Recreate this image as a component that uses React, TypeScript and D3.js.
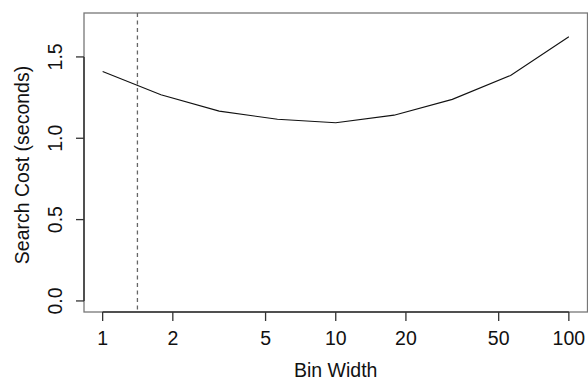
import * as d3 from "d3";
import React, { useEffect, useRef } from "react";

// bin widths (log spaced) and the search cost measured at each
const binWidths = [1, 1.778, 3.162, 5.623, 10, 17.78, 31.62, 56.23, 100];
const searchCost = [1.411, 1.268, 1.167, 1.117, 1.095, 1.142, 1.239, 1.386, 1.624];
const xTicks = [1, 2, 5, 10, 20, 50, 100];
const yTicks = [0, 0.5, 1.0, 1.5];
const optimumWidth = 1.41;

const App: React.FC = () => {
  const ref = useRef<SVGSVGElement>(null);

  useEffect(() => {
    const width = 588;
    const height = 381;
    const left = 84;
    const right = 587.5;
    const top = 13;
    const bottom = 312;
    const font = "'Liberation Sans', Arial, Helvetica, sans-serif";
    const fontSize = 19.5;

    const x = d3.scaleLog()
      .domain([Math.pow(10, -0.08), Math.pow(10, 2.08)])
      .range([left, right]);

    const y = d3.scaleLinear()
      .domain([-0.068, 1.77])
      .range([bottom, top]);

    const svg = d3.select(ref.current);
    svg.selectAll("*").remove();
    svg.attr("width", width).attr("height", height)
      .style("font-family", font);

    // plot box
    svg.append("rect")
      .attr("x", left).attr("y", top)
      .attr("width", right - left).attr("height", bottom - top)
      .attr("fill", "none")
      .attr("stroke", "#777")
      .attr("stroke-width", 1.3);

    // x axis
    svg.append("line")
      .attr("x1", x(xTicks[0])).attr("x2", x(xTicks[xTicks.length - 1]))
      .attr("y1", bottom).attr("y2", bottom)
      .attr("stroke", "#333").attr("stroke-width", 1.5);

    const xt = svg.append("g").selectAll("g").data(xTicks).join("g")
      .attr("transform", d => `translate(${x(d)},0)`);
    xt.append("line")
      .attr("y1", bottom).attr("y2", bottom + 9)
      .attr("stroke", "#333").attr("stroke-width", 1.3);
    xt.append("text")
      .attr("y", 345)
      .attr("text-anchor", "middle")
      .attr("font-size", fontSize)
      .attr("fill", "#111")
      .text(d => String(d));

    // y axis
    svg.append("line")
      .attr("x1", left).attr("x2", left)
      .attr("y1", y(yTicks[0])).attr("y2", y(yTicks[yTicks.length - 1]))
      .attr("stroke", "#333").attr("stroke-width", 1.5);

    const yt = svg.append("g").selectAll("g").data(yTicks).join("g")
      .attr("transform", d => `translate(0,${y(d)})`);
    yt.append("line")
      .attr("x1", left - 8).attr("x2", left)
      .attr("stroke", "#333").attr("stroke-width", 1.3);
    yt.append("text")
      .attr("transform", "translate(62,0) rotate(-90)")
      .attr("text-anchor", "middle")
      .attr("font-size", fontSize)
      .attr("fill", "#111")
      .text(d => d.toFixed(1));

    // optimum bin width marker
    svg.append("line")
      .attr("x1", x(optimumWidth)).attr("x2", x(optimumWidth))
      .attr("y1", top).attr("y2", bottom)
      .attr("stroke", "#666")
      .attr("stroke-width", 1.3)
      .attr("stroke-dasharray", "4,3.5");

    const line = d3.line<number>()
      .x((_, i) => x(binWidths[i]))
      .y(d => y(d));

    svg.append("path")
      .attr("d", line(searchCost)!)
      .attr("fill", "none")
      .attr("stroke", "#111")
      .attr("stroke-width", 1.1);

    // titles
    svg.append("text")
      .attr("x", (left + right) / 2).attr("y", 377)
      .attr("text-anchor", "middle")
      .attr("font-size", fontSize)
      .attr("fill", "#111")
      .text("Bin Width");

    svg.append("text")
      .attr("transform", `translate(28.5,165) rotate(-90)`)
      .attr("text-anchor", "middle")
      .attr("font-size", fontSize)
      .attr("fill", "#111")
      .text("Search Cost (seconds)");
  }, []);

  return (
    <svg ref={ref} style={{ position: "absolute", left: 0, top: 0, display: "block", background: "#fff" }} />
  );
};

export default App;
